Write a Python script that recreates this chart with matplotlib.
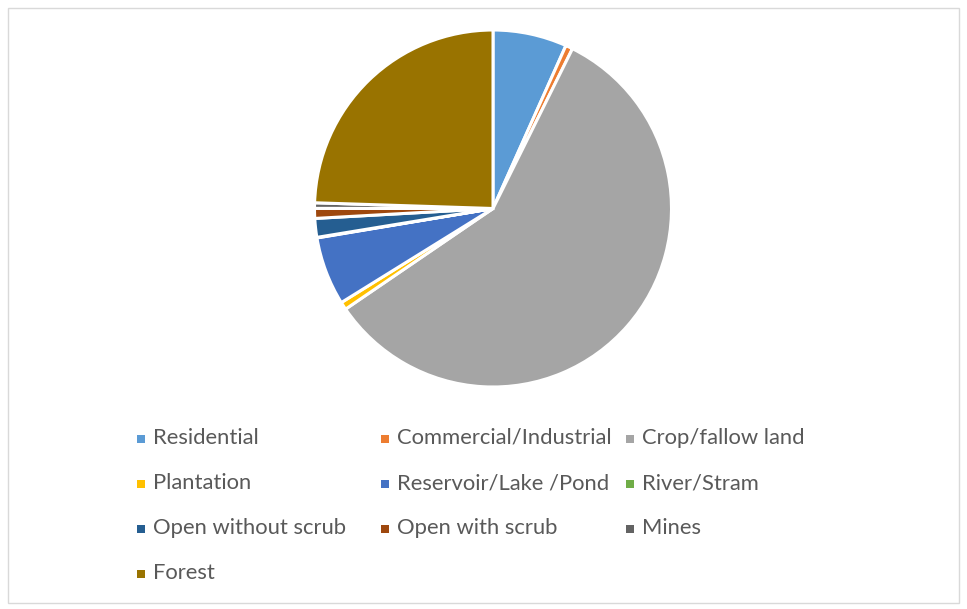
import matplotlib.pyplot as plt
from matplotlib.patches import Rectangle

labels = ['Residential', 'Commercial/Industrial', 'Crop/fallow land',
          'Plantation', 'Reservoir/Lake /Pond', 'River/Stram',
          'Open without scrub', 'Open with scrub', 'Mines', 'Forest']
values = [6.7, 0.65, 58.15, 0.7, 6.2, 0.05, 1.7, 0.9, 0.5, 24.5]
colors = ['#5B9BD5', '#ED7D31', '#A5A5A5', '#FFC000', '#4472C4',
          '#70AD47', '#255E91', '#9E480E', '#636363', '#997300']

W, H = 967, 609
fig = plt.figure(figsize=(W / 100, H / 100), dpi=100)
plt.rcParams['font.family'] = ['Lato', 'DejaVu Sans']

# outer frame
fig.patches.append(Rectangle((8 / W, 6 / H), 951 / W, 595 / H, transform=fig.transFigure,
                             fill=False, edgecolor='#D9D9D9', linewidth=1))

# pie
cx, cy, r = 493, 208.5, 178.5
ax = fig.add_axes([(cx - r) / W, 1 - (cy + r) / H, 2 * r / W, 2 * r / H])
ax.pie(values, colors=colors, startangle=90, counterclock=False,
       wedgeprops=dict(edgecolor='white', linewidth=2.2))
ax.set_xlim(-1, 1)
ax.set_ylim(-1, 1)
ax.set_aspect('equal')
ax.axis('off')

# legend, laid out like the Excel one
col_x = [141, 385, 630]
row_y = [439, 484, 529, 574]
for i, (lab, c) in enumerate(zip(labels, colors)):
    x = col_x[i % 3]
    y = row_y[i // 3]
    fig.patches.append(Rectangle(((x - 4) / W, 1 - (y + 4) / H), 8 / W, 8 / H,
                                 transform=fig.transFigure, facecolor=c, edgecolor='none'))
    fig.text((x + 12) / W, 1 - (y - 1) / H, lab, fontsize=15.8, color='#595959',
             ha='left', va='center')

fig.savefig('out.png', dpi=100)
